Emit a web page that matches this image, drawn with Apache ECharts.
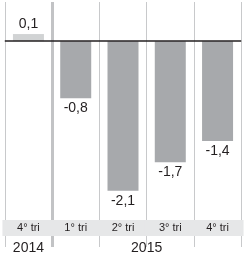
<!DOCTYPE html>
<html>
<head>
<meta charset="utf-8">
<script src="https://cdn.jsdelivr.net/npm/echarts@6/dist/echarts.min.js"></script>
<style>html,body{margin:0;padding:0;background:#fff}#c{width:246px;height:258px}</style>
</head>
<body>
<div id="c"></div>
<script>
const categories = ['4° tri', '1° tri', '2° tri', '3° tri', '4° tri'];
const values = [0.1, -0.8, -2.1, -1.7, -1.4];
const years = ['2014', '2015'];
const yearPositions = [0.5, 3];

const FONT = '"Liberation Sans", Arial, sans-serif';
const chart = echarts.init(document.getElementById('c'), null, {renderer: 'canvas'});

const sepColors = [];
for (let i = 0; i <= 10; i++) sepColors.push(i === 2 ? '#c2c3c5' : 'rgba(0,0,0,0)');

chart.setOption({
  animation: false,
  grid: {left: 3, right: 1, top: 2, bottom: 11, containLabel: false},
  xAxis: [
    {
      type: 'category',
      data: categories,
      position: 'bottom',
      z: 0,
      axisLine: {show: false},
      axisTick: {show: false},
      axisLabel: {show: false},
      splitLine: {show: true, interval: 0, lineStyle: {color: '#c8c9cb', width: 1}}
    },
    {
      type: 'value',
      min: 0,
      max: 5,
      interval: 0.5,
      position: 'bottom',
      z: 0,
      axisLine: {show: false},
      axisTick: {show: false},
      splitLine: {show: true, lineStyle: {color: sepColors, width: 3}},
      axisLabel: {
        margin: -6,
        fontFamily: FONT,
        fontSize: 14,
        color: '#231f20',
        showMinLabel: true,
        showMaxLabel: true,
        formatter: function (v) {
          const i = yearPositions.indexOf(v);
          return i >= 0 ? years[i] : '';
        }
      }
    },
    {
      type: 'category',
      data: categories,
      position: 'bottom',
      z: 5,
      axisLine: {show: false},
      axisTick: {show: false},
      splitLine: {show: false},
      axisLabel: {
        inside: true,
        margin: 11,
        interval: 0,
        fontFamily: FONT,
        fontSize: 11,
        color: '#231f20',
        backgroundColor: '#e6e7e8',
        width: 52,
        height: 16,
        lineHeight: 16,
        align: 'center',
        verticalAlign: 'bottom'
      }
    }
  ],
  yAxis: {
    type: 'value',
    min: -2.89,
    max: 0.55,
    show: false,
    splitLine: {show: false}
  },
  series: [{
    type: 'bar',
    xAxisIndex: 0,
    barWidth: 31,
    data: values.map((v, i) => ({
      value: v,
      itemStyle: {color: i === 0 ? '#d1d3d4' : '#a7a9ac'},
      label: {position: v >= 0 ? 'top' : 'bottom'}
    })),
    label: {
      show: true,
      distance: 3,
      fontFamily: FONT,
      fontSize: 14,
      color: '#231f20',
      formatter: p => String(p.value).replace('.', ',')
    },
    markArea: {
      silent: true,
      itemStyle: {color: '#e6e7e8', opacity: 1},
      label: {show: false},
      data: [[{yAxis: -2.51}, {yAxis: -2.735}]]
    },
    markLine: {
      silent: true,
      symbol: 'none',
      label: {show: false},
      lineStyle: {color: '#231f20', width: 1.5, type: 'solid'},
      data: [{yAxis: 0}]
    }
  }]
});
</script>
</body>
</html>
